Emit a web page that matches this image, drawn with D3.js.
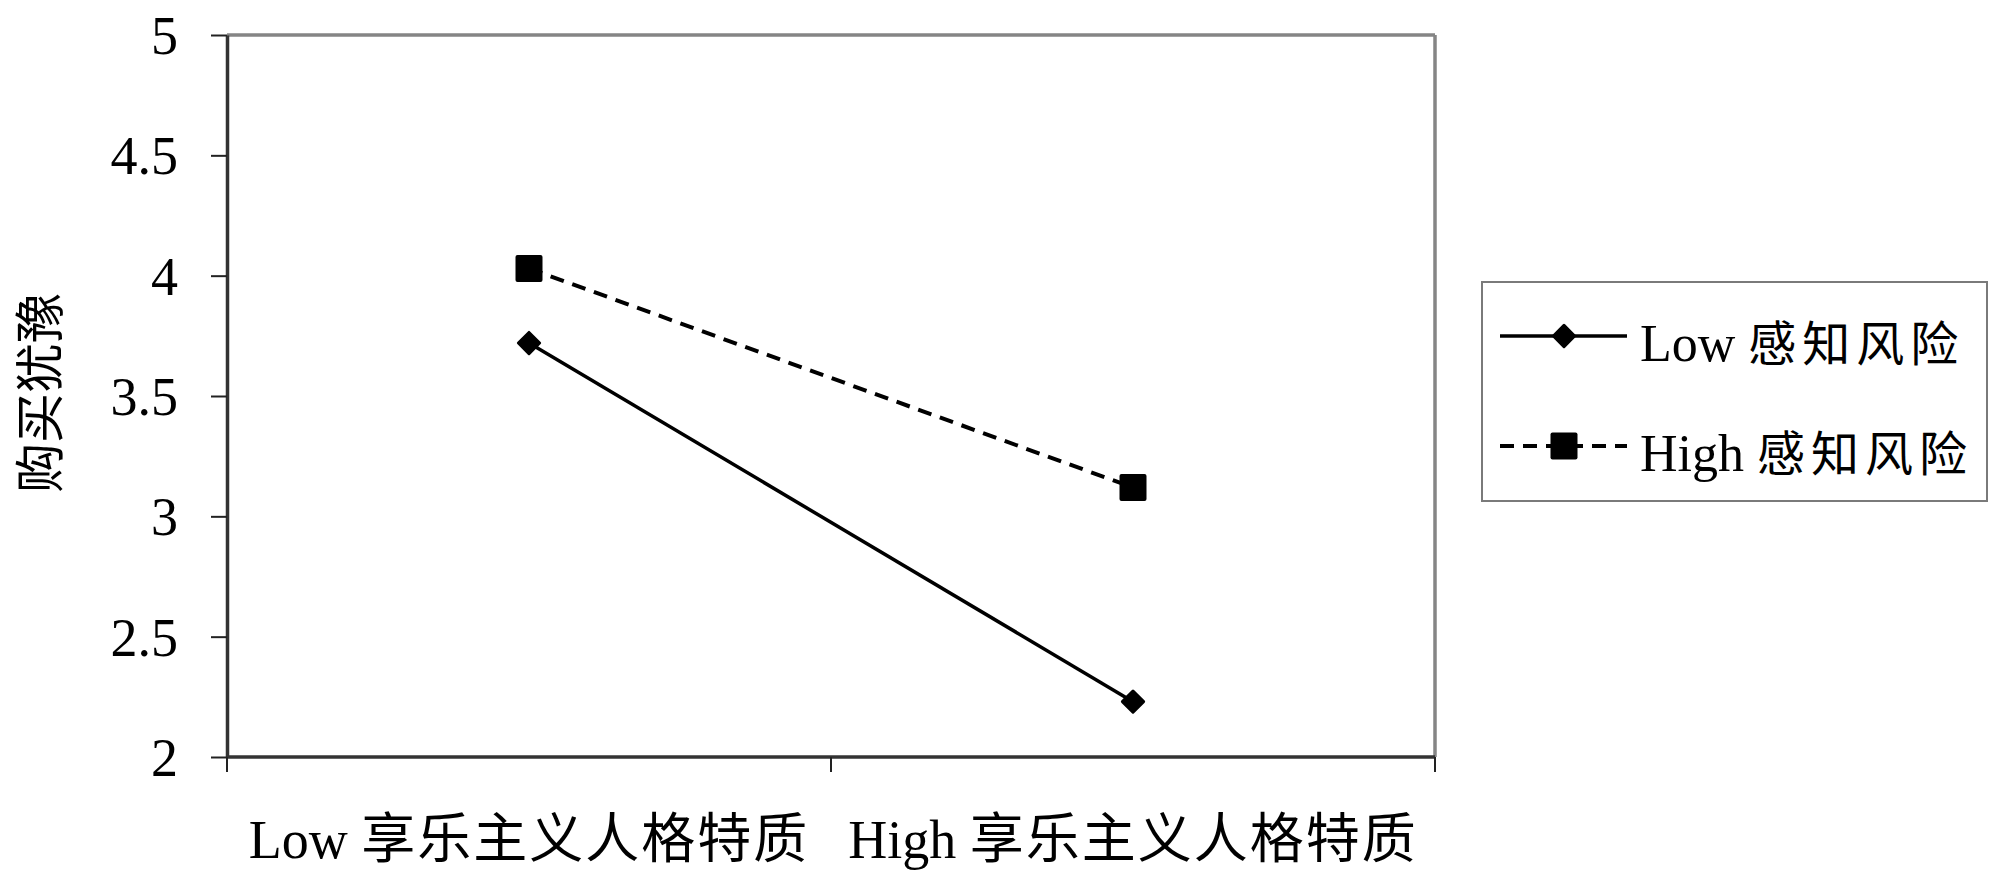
<!DOCTYPE html>
<html>
<head>
<meta charset="utf-8">
<script src="https://cdn.jsdelivr.net/npm/d3@7"></script>
<style>
  html, body { margin: 0; padding: 0; background: #fff; }
  svg { display: block; }
</style>
</head>
<body>
<svg id="chart" width="2000" height="882"></svg>
<script>
const categories = ["Low", "High"];
const categorySuffix = "享乐主义人格特质";
const seriesNames = ["Low 感知风险", "High 感知风险"];
const lowRisk = [3.72, 2.23];
const highRisk = [4.03, 3.12];
const yTicks = [2, 2.5, 3, 3.5, 4, 4.5, 5];
const yLabel = "购买犹豫";

(function () {
const svg = d3.select("#chart");
const pL = 227, pR = 1435, pT = 35, pB = 757;
const latin = "'Liberation Serif', 'Times New Roman', serif";
const cjk = "'Noto Sans CJK SC', sans-serif";

const x = d3.scaleBand().domain(categories).range([pL, pR]).padding(0);
const y = d3.scaleLinear().domain([2, 5]).range([pB, pT]);

// plot border (top/right gray)
svg.append("line").attr("x1", pL).attr("x2", pR).attr("y1", pT).attr("y2", pT)
  .attr("stroke", "#858585").attr("stroke-width", 3.5);
svg.append("line").attr("x1", pR).attr("x2", pR).attr("y1", pT).attr("y2", pB)
  .attr("stroke", "#858585").attr("stroke-width", 3.5);

// y axis
const yAxis = d3.axisLeft(y).tickValues(yTicks).tickSize(16).tickSizeOuter(0).tickFormat(d => d3.format("")(d));
const gy = svg.append("g").attr("transform", `translate(${pL},0)`).call(yAxis);
gy.select(".domain").attr("stroke", "#333").attr("stroke-width", 3.5);
gy.selectAll(".tick line").attr("stroke", "#222").attr("stroke-width", 2);
gy.selectAll(".tick text")
  .attr("x", -49).attr("dy", "0.34em")
  .attr("font-family", latin).attr("font-size", 54).attr("fill", "#000");

// x axis (ticks at boundaries)
const boundaries = [pL, pL + x.bandwidth(), pR];
const gx = svg.append("g");
gx.append("line").attr("x1", pL).attr("x2", pR).attr("y1", pB).attr("y2", pB)
  .attr("stroke", "#333").attr("stroke-width", 3.5);
gx.selectAll("line.tk").data(boundaries).enter().append("line").attr("class", "tk")
  .attr("x1", d => d).attr("x2", d => d).attr("y1", pB).attr("y2", pB + 15)
  .attr("stroke", "#222").attr("stroke-width", 2);
const xl = gx.selectAll("text.xl").data(categories).enter().append("text").attr("class", "xl")
  .attr("x", d => x(d) + x.bandwidth() / 2).attr("y", 858)
  .attr("text-anchor", "middle").attr("fill", "#000");
xl.append("tspan").attr("font-family", latin).attr("font-size", 54).text(d => d + " ");
xl.append("tspan").attr("font-family", cjk).attr("font-size", 54).attr("letter-spacing", 2).text(categorySuffix);

// y label
svg.append("text").attr("transform", "translate(58,393) rotate(-90)")
  .attr("text-anchor", "middle").attr("font-family", cjk).attr("font-size", 50)
  .attr("fill", "#000").text(yLabel);

// lines
const cx = d => x(d) + x.bandwidth() / 2;
const lineGen = d3.line().x(d => cx(d.c)).y(d => y(d.v));
const lowData = categories.map((c, i) => ({ c, v: lowRisk[i] }));
const highData = categories.map((c, i) => ({ c, v: highRisk[i] }));

svg.append("path").datum(highData).attr("d", lineGen).attr("fill", "none")
  .attr("stroke", "#000").attr("stroke-width", 4).attr("stroke-dasharray", "14,9");
svg.append("path").datum(lowData).attr("d", lineGen).attr("fill", "none")
  .attr("stroke", "#000").attr("stroke-width", 3.5);

const sqSize = 27, dmSize = 18;
svg.selectAll("rect.hi").data(highData).enter().append("rect").attr("class", "hi")
  .attr("x", d => cx(d.c) - sqSize / 2).attr("y", d => y(d.v) - sqSize / 2)
  .attr("width", sqSize).attr("height", sqSize).attr("rx", 2).attr("fill", "#000");
svg.selectAll("rect.lo").data(lowData).enter().append("rect").attr("class", "lo")
  .attr("x", -dmSize / 2).attr("y", -dmSize / 2).attr("width", dmSize).attr("height", dmSize)
  .attr("rx", 1.5)
  .attr("transform", d => `translate(${cx(d.c)},${y(d.v)}) rotate(45)`).attr("fill", "#000");

// legend
const lg = svg.append("g");
lg.append("rect").attr("x", 1482).attr("y", 282).attr("width", 505).attr("height", 219)
  .attr("fill", "#fff").attr("stroke", "#7a7a7a").attr("stroke-width", 2);
const rows = [
  { name: seriesNames[0], y: 336, dash: null, marker: "diamond" },
  { name: seriesNames[1], y: 446, dash: "14,9", marker: "square" }
];
rows.forEach(r => {
  lg.append("line").attr("x1", 1500).attr("x2", 1627).attr("y1", r.y).attr("y2", r.y)
    .attr("stroke", "#000").attr("stroke-width", r.dash ? 4 : 3.5)
    .attr("stroke-dasharray", r.dash);
  if (r.marker === "square") {
    lg.append("rect").attr("x", 1564 - sqSize / 2).attr("y", r.y - sqSize / 2)
      .attr("width", sqSize).attr("height", sqSize).attr("rx", 2).attr("fill", "#000");
  } else {
    lg.append("rect").attr("x", -dmSize / 2).attr("y", -dmSize / 2).attr("width", dmSize).attr("height", dmSize)
      .attr("rx", 1.5).attr("transform", `translate(1564,${r.y}) rotate(45)`).attr("fill", "#000");
  }
  const parts = r.name.split(" ");
  const t = lg.append("text").attr("x", 1640).attr("y", r.y + 25).attr("fill", "#000");
  t.append("tspan").attr("font-family", latin).attr("font-size", 52).text(parts[0] + " ");
  t.append("tspan").attr("font-family", cjk).attr("font-size", 48).attr("letter-spacing", 6).text(parts[1]);
});
})();
</script>
</body>
</html>
